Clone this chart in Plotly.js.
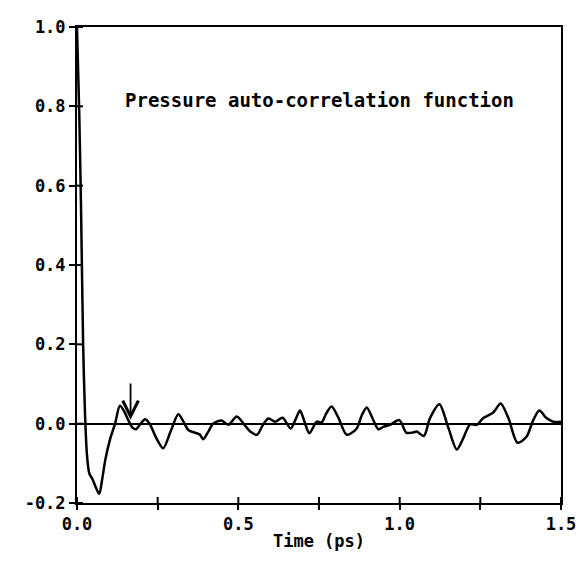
<!DOCTYPE html>
<html>
<head>
<meta charset="utf-8">
<script src="https://cdn.plot.ly/plotly-3.0.1.min.js"></script>
<style>html,body{margin:0;padding:0;background:#fff;}#chart{width:583px;height:570px;}</style>
</head>
<body>
<div id="chart"></div>
<script>
// Time (ps)
const timePs = [0, 0.007, 0.013, 0.019, 0.025, 0.031, 0.038, 0.048, 0.058, 0.069, 0.078, 0.088, 0.102, 0.118, 0.133, 0.147, 0.159, 0.172, 0.183, 0.197, 0.211, 0.225, 0.245, 0.267, 0.29, 0.314, 0.33, 0.345, 0.366, 0.38, 0.391, 0.407, 0.422, 0.448, 0.469, 0.495, 0.521, 0.537, 0.558, 0.575, 0.593, 0.614, 0.637, 0.662, 0.677, 0.691, 0.705, 0.72, 0.743, 0.758, 0.772, 0.789, 0.81, 0.836, 0.867, 0.882, 0.898, 0.915, 0.934, 0.949, 0.97, 0.999, 1.021, 1.042, 1.053, 1.075, 1.094, 1.123, 1.15, 1.177, 1.197, 1.218, 1.239, 1.259, 1.29, 1.313, 1.337, 1.365, 1.393, 1.414, 1.433, 1.455, 1.476, 1.5];
// Pressure auto-correlation
const pacf = [1.0, 0.78, 0.52, 0.2, 0.02, -0.08, -0.125, -0.14, -0.16, -0.177, -0.14, -0.09, -0.041, 0.0, 0.045, 0.03, 0.009, -0.01, -0.014, 0.0, 0.011, 0.0, -0.035, -0.062, -0.02, 0.024, 0.005, -0.016, -0.023, -0.027, -0.039, -0.02, 0.0, 0.008, -0.003, 0.018, -0.005, -0.02, -0.028, -0.005, 0.013, 0.005, 0.015, -0.012, 0.01, 0.033, 0.005, -0.024, 0.005, 0.003, 0.025, 0.043, 0.015, -0.028, -0.012, 0.02, 0.041, 0.015, -0.014, -0.008, -0.003, 0.009, -0.023, -0.022, -0.02, -0.031, 0.014, 0.049, -0.008, -0.065, -0.037, -0.002, -0.003, 0.014, 0.028, 0.051, 0.014, -0.048, -0.033, 0.009, 0.033, 0.014, 0.005, 0.005];

const xTickVals = [0, 0.25, 0.5, 0.75, 1.0, 1.25, 1.5];
const xTickText = ['0.0', '', '0.5', '', '1.0', '', '1.5'];
const yTickVals = [-0.2, 0, 0.2, 0.4, 0.6, 0.8, 1.0];
const yTickText = ['-0.2', '0.0', '0.2', '0.4', '0.6', '0.8', '1.0'];
const arrowTime = 0.166, arrowTail = 0.105, arrowHead = 0.01;
const labelText = 'Pressure auto-correlation function';

const font = {family: 'DejaVu Sans Mono, monospace', size: 17, color: '#000', weight: 'bold'};

// inner halves of the crossing tick marks (outer halves are the axis ticks)
const innerTickStyle = {color: '#000', width: 2};
const innerTicks = [
  ...xTickVals.map(v => ({type: 'line', xref: 'x', yref: 'paper', x0: v, x1: v, y0: 0, y1: 6 / 476, line: innerTickStyle})),
  ...yTickVals.map(v => ({type: 'line', xref: 'paper', yref: 'y', x0: 0, x1: 6 / 484, y0: v, y1: v, line: innerTickStyle}))
];

const traces = [
  {x: timePs, y: pacf, type: 'scatter', mode: 'lines',
   line: {color: '#000', width: 2.5, shape: 'spline', smoothing: 0.8},
   hoverinfo: 'skip', showlegend: false}
];

const layout = {
  width: 583, height: 570,
  margin: {l: 77, r: 22, t: 27, b: 67},
  paper_bgcolor: '#fff', plot_bgcolor: '#fff',
  font: font,
  showlegend: false,
  xaxis: {
    range: [0, 1.5], tickvals: xTickVals, ticktext: xTickText,
    ticks: 'outside', ticklen: 5, tickwidth: 2, tickcolor: '#000',
    showgrid: false, zeroline: false,
    showline: true, linecolor: '#000', linewidth: 2, mirror: true,
    tickfont: font,
    title: {text: 'Time (ps)', font: font, standoff: 2}
  },
  yaxis: {
    range: [-0.2, 1.0], tickvals: yTickVals, ticktext: yTickText,
    ticks: 'outside', ticklen: 6, tickwidth: 2, tickcolor: '#000',
    showgrid: false, zeroline: true, zerolinecolor: '#000', zerolinewidth: 2,
    showline: true, linecolor: '#000', linewidth: 2, mirror: true,
    tickfont: font
  },
  shapes: innerTicks,
  annotations: [
    {x: 0.753, y: 0.816, xref: 'x', yref: 'y', text: labelText, showarrow: false,
     font: {family: 'DejaVu Sans Mono, monospace', size: 19, color: '#000', weight: 'bold'}},
    {x: arrowTime, y: arrowHead, ax: arrowTime, ay: arrowTail, xref: 'x', yref: 'y',
     axref: 'x', ayref: 'y', text: '', showarrow: true, arrowhead: 5, arrowsize: 1.7,
     arrowwidth: 1.8, arrowcolor: '#000'}
  ]
};

Plotly.newPlot('chart', traces, layout, {displayModeBar: false, staticPlot: true});
</script>
</body>
</html>
